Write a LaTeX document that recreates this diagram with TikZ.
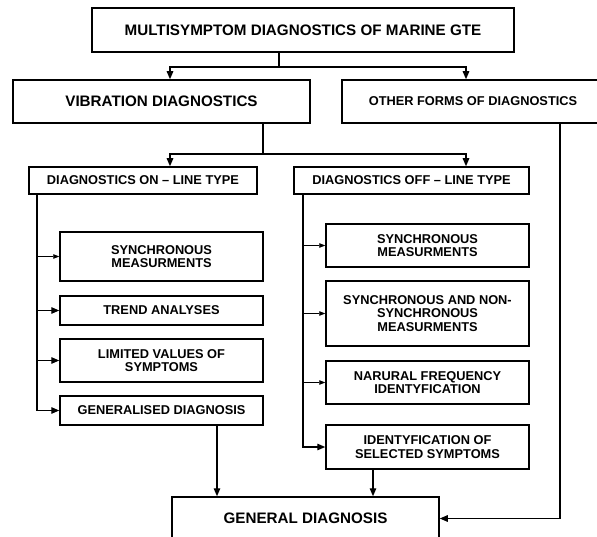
\documentclass[tikz,border=0pt]{standalone}
\usepackage{fontspec}
\setmainfont{Liberation Sans}
\usetikzlibrary{arrows.meta}
\tikzset{
  box/.style={draw=black,line width=1.5pt,fill=white,align=center,inner sep=2pt,font=\fontsize{12.8}{13.6}\selectfont\bfseries},
  bigbox/.style={box,font=\fontsize{15.2}{17}\selectfont\bfseries},
  link/.style={draw=black,line width=1.4pt},
  arr/.style={link,-{Triangle[length=8pt,width=6.5pt]}},
  thinarr/.style={draw=black,line width=0.8pt,-{Triangle[length=6pt,width=4.5pt]}}
}

\begin{document}
\begin{tikzpicture}[x=1pt,y=-1pt]
\useasboundingbox (0,0) rectangle (597,537);
\clip (0,0) rectangle (597,537);
\node[bigbox,minimum width=422,minimum height=44] (top) at (303,30) {MULTISYMPTOM DIAGNOSTICS OF MARINE GTE};
\node[bigbox,minimum width=297,minimum height=43] (vib) at (161.5,101.5) {VIBRATION DIAGNOSTICS};
\node[box,minimum width=262,minimum height=43] (other) at (473,101.5) {OTHER FORMS OF DIAGNOSTICS};
\node[box,minimum width=228,minimum height=27] (online) at (143,180.5) {DIAGNOSTICS ON -- LINE TYPE};
\node[box,minimum width=235,minimum height=27] (offline) at (411.5,180.5) {DIAGNOSTICS OFF -- LINE TYPE};
\node[box,minimum width=203,minimum height=49] (on1) at (161.5,256.5) {SYNCHRONOUS\\MEASURMENTS};
\node[box,minimum width=203,minimum height=29] (on2) at (161.5,310.5) {TREND ANALYSES};
\node[box,minimum width=203,minimum height=43] (on3) at (161.5,360.5) {LIMITED VALUES OF\\SYMPTOMS};
\node[box,minimum width=203,minimum height=29] (on4) at (161.5,410.5) {GENERALISED DIAGNOSIS};
\node[box,minimum width=203,minimum height=43] (off1) at (427.5,245.5) {SYNCHRONOUS\\MEASURMENTS};
\node[box,minimum width=203,minimum height=65] (off2) at (427.5,313.5) {SYNCHRONOUS AND NON-\\SYNCHRONOUS\\MEASURMENTS};
\node[box,minimum width=203,minimum height=43] (off3) at (427.5,382.5) {NARURAL FREQUENCY\\IDENTYFICATION};
\node[box,minimum width=203,minimum height=44] (off4) at (427.5,447) {IDENTYFICATION OF\\SELECTED SYMPTOMS};
\node[bigbox,minimum width=267,minimum height=43] (final) at (305.5,518.5) {GENERAL DIAGNOSIS};

\coordinate (s1) at (279,67);
\coordinate (s2) at (263,154);
\coordinate (b1) at (37,0);
\coordinate (b2) at (303,0);
\draw[link] (top.south -| s1) -- (s1);
\draw[arr] (s1) -| (vib.north -| 170,0);
\draw[arr] (s1) -| (other.north -| 466,0);
\draw[link] (vib.south -| s2) -- (s2);
\draw[arr] (s2) -| (online.north -| 170,0);
\draw[arr] (s2) -| (offline.north -| 466,0);
\draw[arr] (online.south -| b1) |- (on4.west);
\draw[thinarr] (on1.west -| b1) -- (on1.west);
\draw[arr] (on2.west -| b1) -- (on2.west);
\draw[arr] (on3.west -| b1) -- (on3.west);
\draw[arr] (offline.south -| b2) |- (off4.west);
\draw[thinarr] (off1.west -| b2) -- (off1.west);
\draw[thinarr] (off2.west -| b2) -- (off2.west);
\draw[thinarr] (off3.west -| b2) -- (off3.west);
\draw[arr] (other.south -| 560,0) |- (final.east);
\draw[arr] (on4.south -| 217,0) -- (final.north -| 217,0);
\draw[arr] (off4.south -| 373,0) -- (final.north -| 373,0);
\end{tikzpicture}
\end{document}
